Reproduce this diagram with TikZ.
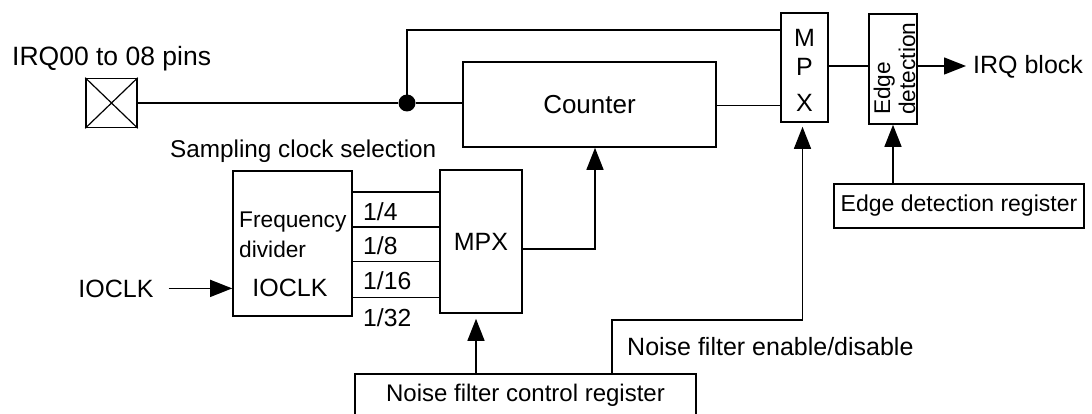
\documentclass[tikz,border=0pt]{standalone}
\usepackage{fontspec}
\setmainfont{Liberation Sans}
\usetikzlibrary{arrows.meta}
\begin{document}
\begin{tikzpicture}[x=1pt,y=-1pt,
  box/.style={draw, line width=1.6pt, inner sep=0pt},
  wire/.style={line width=1.4pt},
  arr/.style={wire, -{Triangle[length=22pt,width=17pt]}},
  lbl/.style={inner sep=0pt, font=\fontsize{25}{28}\selectfont},
]
\clip (0,0) rectangle (1092,414);
% pin
\node[box, minimum width=51pt, minimum height=49pt] (pin) at (111.5,103) {};
\draw[line width=1.2pt] (pin.north west) -- (pin.south east) (pin.north east) -- (pin.south west);
\node[lbl, anchor=base west, font=\fontsize{26.5}{30}\selectfont] (pinlbl) at (12,66) {IRQ00 to 08 pins};
\node[circle, fill, minimum size=17pt, inner sep=0pt] (dot) at (407,103) {};
% counter
\node[box, lbl, font=\fontsize{26}{29}\selectfont, minimum width=253pt, minimum height=85pt] (counter) at (589.5,104.5) {Counter};
% big MPX
\node[box, minimum width=47pt, minimum height=109pt] (mpxA) at (804.5,67.5) {};
\node[lbl] (mM) at (804.5,38) {M};
\node[lbl] (mP) at (804.5,67) {P};
\node[lbl] (mX) at (804.5,103) {X};
% edge detection
\node[box, minimum width=48pt, minimum height=110pt] (edge) at (893,69) {};
\node[rotate=90, anchor=west, align=left, inner sep=0pt, font=\fontsize{22.7}{25}\selectfont] (edgetxt) at (894.5,115) {Edge\\detection};
\node[lbl, anchor=west] (irq) at (973,67) {IRQ block};
\coordinate (irqtip) at (966,66);
% edge detection register
\node[box, font=\fontsize{23}{26}\selectfont, minimum width=250pt, minimum height=44pt] (edr) at (959,206) {Edge detection register};
% frequency divider
\node[box, minimum width=119pt, minimum height=145pt] (fd) at (292.5,243.5) {};
\node[lbl, anchor=base west, font=\fontsize{22.7}{25}\selectfont] (fd1) at (239,227) {Frequency};
\node[lbl, anchor=base west, font=\fontsize{22.7}{25}\selectfont] (fd2) at (239,258) {divider};
\node[lbl, anchor=base] (fd3) at (290,296) {IOCLK};
% small MPX
\node[box, lbl, minimum width=82pt, minimum height=143pt] (mpx2) at (481,241.5) {MPX};
% ratio labels
\node[lbl, anchor=base west, font=\fontsize{24.7}{28}\selectfont] (r4) at (363,221) {1/4};
\node[lbl, anchor=base west, font=\fontsize{24.7}{28}\selectfont] (r8) at (363,254) {1/8};
\node[lbl, anchor=base west, font=\fontsize{24.7}{28}\selectfont] (r16) at (363,289) {1/16};
\node[lbl, anchor=base west, font=\fontsize{24.7}{28}\selectfont] (r32) at (363,326) {1/32};
\node[lbl, anchor=base west, font=\fontsize{24.3}{28}\selectfont] (samp) at (170,158) {Sampling clock selection};
\node[lbl, anchor=base] (ioclk) at (116,297) {IOCLK};
% noise filter control register
\node[box, font=\fontsize{24}{27}\selectfont, minimum width=341pt, minimum height=42pt] (nfcr) at (525.5,395) {Noise filter control register};
\node[lbl, anchor=base west] (nflbl) at (627,355) {Noise filter enable/disable};
\coordinate (nf1) at (612,320);
% connectors
\draw[wire] (pin.east) -- (dot);
\draw[wire] (dot) -- (dot -| counter.west);
\draw[wire] (dot.center) |- ([yshift=-18pt]mpxA.north west);
\draw[wire] ([yshift=-1pt]counter.east) -- ([yshift=-1pt]counter.east -| mpxA.west);
\draw[wire] ([yshift=1.5pt]mpxA.east) -- ([yshift=1.5pt]mpxA.east -| edge.west);
\draw[arr] ([yshift=3pt]edge.east) -- (irqtip);
\draw[arr] (edge.south |- edr.north) -- (edge.south);
\draw[arr, shorten >=4pt] (nf1 |- nfcr.north) -- (nf1) -| ([xshift=-2pt]mpxA.south);
\draw[arr, shorten >=5pt] ([xshift=-5pt]mpx2.south |- nfcr.north) -- ([xshift=-5pt]mpx2.south);
\draw[arr] ([yshift=-7.5pt]mpx2.east) -| ([xshift=5.5pt]counter.south);
\foreach \d in {22,57,91,127}
  \draw[wire] ([yshift=-\d pt]fd.north east) -- ([yshift=-\d pt]fd.north east -| mpx2.west);
\draw[arr] ([xshift=15pt]ioclk.east) -- (ioclk.east -| fd.west);
\end{tikzpicture}
\end{document}
